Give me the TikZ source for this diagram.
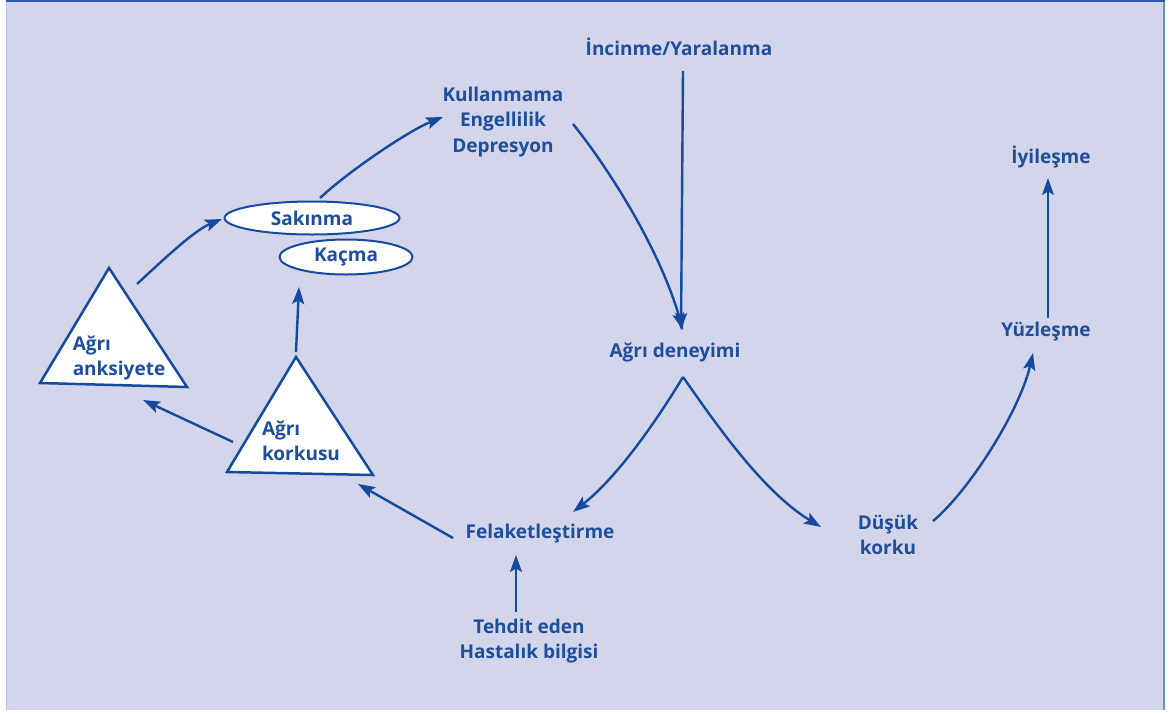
\documentclass[tikz,border=0pt]{standalone}
\usepackage{fontspec}
\setmainfont{Open Sans}
\usetikzlibrary{shapes.geometric,arrows.meta}
\definecolor{bgc}{RGB}{211,213,235}
\definecolor{txtc}{RGB}{31,78,155}
\definecolor{arrc}{RGB}{22,74,158}
\definecolor{frametop}{RGB}{45,90,170}
\definecolor{frameside}{RGB}{110,143,203}
\definecolor{frameleft}{RGB}{180,192,230}
\tikzset{
  lbl/.style={text=txtc, font=\fontsize{19}{25.5}\selectfont\bfseries, align=center, inner sep=0pt},
  ell/.style={ellipse, draw=arrc, fill=white, line width=2pt, text=txtc, font=\fontsize{19}{25.5}\selectfont\bfseries, inner sep=0pt},
  tri/.style={draw=arrc, fill=white, line width=2.5pt, line join=miter},
  arr/.style={draw=arrc, line width=2.4pt, -{Stealth[length=17pt,width=12pt,inset=3.5pt]}},
}
\begin{document}
\begin{tikzpicture}[x=1pt,y=-1pt]
\useasboundingbox (0,0) rectangle (1171,713);
\fill[white] (0,0) rectangle (1171,713);
\fill[bgc] (6,0) rectangle (1165,710);
\draw[frameleft, line width=1.5pt] (6.5,0) -- (6.5,710);
\draw[frameside, line width=2.5pt] (1164,0) -- (1164,710);
\draw[frametop, line width=2.5pt] (6,1.2) -- (1165.25,1.2);

% triangles
\draw[tri] (109,268) -- (187,387) -- (40,383) -- cycle;
\draw[tri] (296,357) -- (373,475) -- (227,472) -- cycle;

% nodes
\node[lbl] (inc) at (679,47) {İncinme/Yaralanma};
\node[lbl] (kul) at (503,122) {Kullanmama\\Engellilik\\Depresyon};
\node[lbl] (agr) at (675,352) {Ağrı deneyimi};
\node[lbl] (iyi) at (1051,157) {İyileşme};
\node[lbl] (yuz) at (1046,332) {Yüzleşme};
\node[lbl] (dus) at (888,535) {Düşük\\korku};
\node[lbl] (fel) at (540,534) {Felaketleştirme};
\node[lbl] (teh) at (529,641) {Tehdit eden\\Hastalık bilgisi};
\node[ell, minimum width=175pt, minimum height=33pt] (sak) at (312,218) {Sakınma};
\node[ell, minimum width=133pt, minimum height=35pt] (kac) at (346,257) {Kaçma};
\node[lbl, align=left] (ank) at (119,358) {Ağrı\\anksiyete};
\node[lbl, align=left] (kor) at (301,441) {Ağrı\\korkusu};

% connectors
\draw[arr] ([shift={(18,-74)}]ank.center) .. controls +(28,-26) and +(-27,11) .. ([shift={(-90,1)}]sak.center);
\draw[arr] ([shift={(8,-20)}]sak.center) .. controls +(30,-28) and +(-33,13) .. ([shift={(-60,-5)}]kul.center);
\draw[arr] ([shift={(-5,-89)}]kor.center) -- ([shift={(-47,30)}]kac.center);
\draw[arr] ([shift={(-68,1)}]kor.center) -- ([shift={(24,42)}]ank.center);
\draw[arr] ([shift={(-87,4)}]fel.center) -- ([shift={(57,43)}]kor.center);
\draw[arr] ([shift={(-13,-29)}]teh.center) -- ([shift={(-24,21)}]fel.center);
\draw[arr] ([shift={(70,2)}]kul.center) .. controls +(37,46) and +(-23,-80) .. ([shift={(8,-22)}]agr.center);
\draw[arr] ([shift={(4,24)}]inc.center) -- ([shift={(6,-22)}]agr.center);
\draw[arr] ([shift={(8,25)}]agr.center) .. controls +(-23,38) and +(47,-37) .. ([shift={(33,-22)}]fel.center);
\draw[arr] ([shift={(8,25)}]agr.center) .. controls +(27,38) and +(-61,-37) .. ([shift={(-67,-8)}]dus.center);
\draw[arr] ([shift={(45,-14)}]dus.center) .. controls +(37,-31) and +(-13,57) .. ([shift={(-13,21)}]yuz.center);
\draw[arr] ([shift={(2,-14)}]yuz.center) -- ([shift={(-3,21)}]iyi.center);
\end{tikzpicture}
\end{document}
